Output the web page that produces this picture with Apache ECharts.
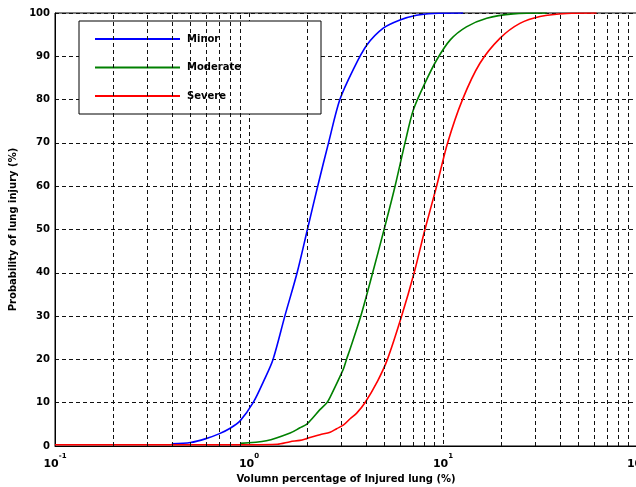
<!DOCTYPE html>
<html>
<head>
<meta charset="utf-8">
<script src="https://cdn.jsdelivr.net/npm/echarts@6/dist/echarts.min.js"></script>
<style>
  html, body { margin: 0; padding: 0; background: #fff; }
  #main { width: 636px; height: 487px; }
</style>
</head>
<body>
<div id="main"></div>
<script>
// curves, [volume %, probability %]
var minor = [
  [0.4, 0.5], [0.5, 0.8], [0.6, 1.7], [0.7, 2.8], [0.8, 4.1], [0.9, 5.8],
  [1.05, 10], [1.19, 15], [1.33, 20], [1.53, 30], [1.77, 40], [2.0, 50],
  [2.26, 60], [2.57, 70], [2.94, 80], [3.45, 87], [4.05, 92.6], [4.92, 96.5],
  [6.0, 98.4], [7.3, 99.5], [8.9, 99.9], [12.7, 100]
];
var moderate = [
  [0.9, 0.6], [1.23, 1.2], [1.63, 3.0], [1.83, 4.2], [1.98, 5.0], [2.14, 6.6],
  [2.32, 8.4], [2.52, 10], [2.62, 11.3], [3.06, 17.7], [3.18, 20], [3.32, 22.4],
  [3.77, 30], [4.34, 40], [4.97, 50], [5.66, 60], [6.37, 70],
  [7.03, 77.6], [8.07, 83.8], [9.29, 89.2], [10.9, 93.8], [13.2, 96.8], [16.8, 98.8],
  [23, 99.8], [34.3, 100]
];
var severe = [
  [0.1, 0.3], [1.0, 0.3], [1.4, 0.4], [1.63, 1.0], [1.83, 1.3], [1.98, 1.7],
  [2.32, 2.6], [2.62, 3.2], [2.83, 4.0], [3.06, 4.8], [3.32, 6.3], [3.59, 7.6],
  [3.96, 10], [4.6, 15], [5.17, 20], [6.12, 30], [7.1, 40], [8.07, 50],
  [9.27, 60], [10.56, 70], [12.6, 80], [15.5, 88.4], [19.7, 94.2], [24.9, 97.6],
  [31.6, 99.2], [43.4, 99.9], [61.9, 100]
];
var seriesNames = ['Minor', 'Moderate', 'Severe'];
var seriesColors = ['#0000ff', '#008000', '#ff0000'];

// minor grid lines of the log axis
var minorTicks = [0.2, 0.3, 0.4, 0.5, 0.6, 0.7, 0.8, 0.9,
  2, 3, 4, 5, 6, 7, 8, 9,
  20, 30, 40, 50, 60, 70, 80, 90];
var xTickValues = [0.1, 1, 10, 100];
var xTickExps = ['-1', '0', '1', '2'];

var font = 'DejaVu Sans';
var gridDash = { color: '#111', width: 1, type: [4, 3] };

var chart = echarts.init(document.getElementById('main'), null, { renderer: 'canvas' });

function curve(i, data) {
  return {
    name: seriesNames[i],
    type: 'line',
    data: data,
    showSymbol: false,
    smooth: 0.3,
    itemStyle: { color: seriesColors[i] },
    lineStyle: { color: seriesColors[i], width: 1.6 }
  };
}

var option = {
  backgroundColor: '#fff',
  animation: false,
  grid: {
    left: 55,
    right: -1,
    top: 13,
    bottom: 41,
    outerBoundsMode: 'none',
    containLabel: false,
    show: true,
    borderColor: '#000',
    borderWidth: 1
  },
  legend: {
    data: seriesNames,
    orient: 'vertical',
    left: 79,
    top: 21,
    padding: [11, 80, 11, 16],
    itemGap: 14.5,
    itemWidth: 85,
    itemHeight: 2,
    icon: 'rect',
    selectedMode: false,
    backgroundColor: '#fff',
    borderColor: '#000',
    borderWidth: 1,
    textStyle: {
      fontFamily: font,
      fontWeight: 'bold',
      fontSize: 10,
      lineHeight: 14,
      color: '#000',
      padding: [0, 0, 0, 2]
    }
  },
  xAxis: {
    type: 'log',
    logBase: 10,
    min: 0.1,
    max: 100,
    name: 'Volumn percentage of Injured lung (%)',
    nameLocation: 'middle',
    nameGap: 27,
    nameTextStyle: { fontFamily: font, fontWeight: 'bold', fontSize: 10, color: '#000' },
    axisLine: { show: true, lineStyle: { color: '#000' } },
    axisTick: { show: false },
    splitLine: { show: true, lineStyle: gridDash },
    axisLabel: {
      margin: 7,
      hideOverlap: false,
      formatter: function (v) {
        var i = xTickValues.findIndex(function (t) { return Math.abs(t - v) < t * 1e-6; });
        return i < 0 ? '' : '{b|10}{s|' + xTickExps[i] + '}';
      },
      rich: {
        b: { fontFamily: font, fontWeight: 'bold', fontSize: 11, color: '#000', lineHeight: 17, verticalAlign: 'bottom' },
        s: { fontFamily: font, fontWeight: 'bold', fontSize: 7, color: '#000', lineHeight: 17, verticalAlign: 'top' }
      }
    }
  },
  yAxis: {
    type: 'value',
    min: 0,
    max: 100,
    interval: 10,
    name: 'Probability of lung injury (%)',
    nameLocation: 'middle',
    nameGap: 33,
    nameTextStyle: { fontFamily: font, fontWeight: 'bold', fontSize: 10, color: '#000' },
    axisLine: { show: true, lineStyle: { color: '#000' } },
    axisTick: { show: false },
    splitLine: { show: true, lineStyle: gridDash },
    axisLabel: { margin: 5, fontFamily: font, fontWeight: 'bold', fontSize: 10, color: '#000' }
  },
  series: [
    {
      name: 'grid',
      type: 'line',
      data: [],
      silent: true,
      markLine: {
        silent: true,
        symbol: 'none',
        label: { show: false },
        lineStyle: gridDash,
        emphasis: { disabled: true },
        data: minorTicks.map(function (v) { return { xAxis: v }; })
      }
    },
    curve(0, minor),
    curve(1, moderate),
    curve(2, severe)
  ]
};

chart.setOption(option);
</script>
</body>
</html>
